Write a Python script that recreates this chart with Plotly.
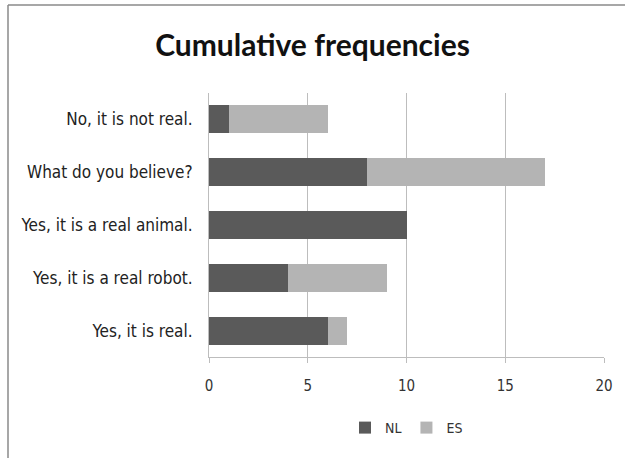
import plotly.graph_objects as go

categories = ["Yes, it is real.", "Yes, it is a real robot.", "Yes, it is a real animal.",
              "What do you believe?", "No, it is not real."]
nl_values = [6, 4, 10, 8, 1]
es_values = [1, 5, 0, 9, 5]
x_ticks = [0, 5, 10, 15, 20]

W, H = 625, 458
L, R, T, B = 209, 21, 93, 101
pw, ph = W - L - R, H - T - B

def px_x(px):
    return (px - L) / pw

def px_y(py):
    return (H - B - py) / ph

label_font = "DejaVu Sans Condensed, Liberation Sans Narrow, Arial Narrow, sans-serif"
frame = dict(color="#8a8a8a", width=1.5)

fig = go.Figure()
fig.add_trace(go.Bar(y=categories, x=nl_values, name="NL", orientation="h",
                     marker=dict(color="#5a5a5a", line=dict(width=0)), width=0.53))
fig.add_trace(go.Bar(y=categories, x=es_values, name="ES", orientation="h",
                     marker=dict(color="#b4b4b4", line=dict(width=0)), width=0.53))

fig.update_layout(
    width=W, height=H,
    barmode="stack",
    paper_bgcolor="white", plot_bgcolor="white",
    margin=dict(l=L, r=R, t=T, b=B),
    title=dict(text="<b>Cumulative frequencies</b>", x=0.5, xanchor="center",
               y=1 - 45 / H, yanchor="middle",
               font=dict(family="Lato, Open Sans, sans-serif", size=30, color="#111111")),
    xaxis=dict(range=[0, 20], tickvals=x_ticks, showgrid=True, gridcolor="#bdbdbd",
               gridwidth=1, zeroline=False, showline=True, linecolor="#bdbdbd",
               ticks="outside", ticklen=5, tickcolor="#bdbdbd", ticklabelstandoff=10,
               tickfont=dict(family=label_font, size=15, color="#333333"),
               fixedrange=True),
    yaxis=dict(categoryorder="array", categoryarray=categories, showgrid=False,
               showline=True, linecolor="#bdbdbd", ticks="", ticklabelstandoff=12,
               tickfont=dict(family=label_font, size=17, color="#222222"),
               fixedrange=True),
    legend=dict(orientation="h", x=0.5, xanchor="center", y=px_y(428), yanchor="middle",
                font=dict(family=label_font, size=14, color="#333333"),
                itemwidth=30, traceorder="normal"),
    showlegend=True,
    shapes=[
        # outer chart frame: left and top edges
        dict(type="line", xref="paper", yref="paper",
             x0=px_x(8), x1=px_x(8), y0=px_y(470), y1=px_y(5), line=frame, layer="below"),
        dict(type="line", xref="paper", yref="paper",
             x0=px_x(8), x1=px_x(640), y0=px_y(5), y1=px_y(5), line=frame, layer="below"),
    ],
)

fig.write_html("out.html")
